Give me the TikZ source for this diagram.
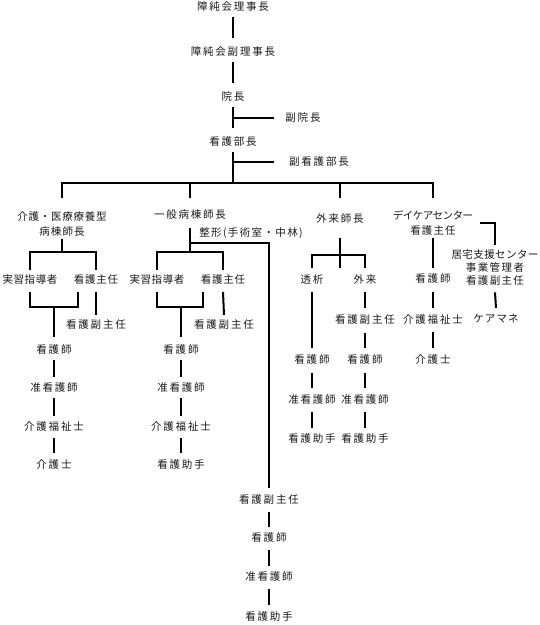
\documentclass[tikz,border=0pt]{standalone}
\usepackage{fontspec}
\newfontfamily\jp{Noto Sans CJK JP}
\begin{document}
\begin{tikzpicture}[x=1pt,y=-1pt,
  lbl/.style={font=\jp\fontsize{10.5}{13}\selectfont\addfontfeature{LetterSpace=#1}, inner sep=0pt, text=black!90, text height=8.9pt, text depth=0.95pt},
  lbl/.default=17,
  ml/.style={font=\jp\fontsize{10.5}{#1}\selectfont, inner sep=0pt, text=black!90, align=center},
  conn/.style={line width=2pt, line join=miter}]
\useasboundingbox (0,0) rectangle (540,625);

% top spine
\node[lbl] (r1) at (233,7) {障純会理事長};
\node[lbl] (r2) at (233,52) {障純会副理事長};
\node[lbl] (inc) at (233,97) {院長};
\node[lbl] (finc) at (303,118) {副院長};
\node[lbl] (kb) at (233,142) {看護部長};
\node[lbl] (fkb) at (319,162) {副看護部長};

\draw[conn] ([yshift=-10pt]r1.center) -- ([yshift=14pt]r2.center);
\draw[conn] ([yshift=-10pt]r2.center) -- ([yshift=14pt]inc.center);
\draw[conn] ([yshift=-10pt]inc.center) -- ([yshift=14pt]kb.center);
\draw[conn] (inc.center |- finc.center) -- ([xshift=-29pt]finc.center);
\coordinate (bar) at (233,183);
\coordinate (drop) at (233,198);
\draw[conn] ([yshift=-10pt]kb.center) -- (bar);
\draw[conn] (kb.center |- fkb.center) -- ([xshift=-45pt]fkb.center);

% heads
\node[ml=15] (a1) at (62,223.6) {{\addfontfeature{LetterSpace=7}介護・医療療養型}\\{\addfontfeature{LetterSpace=11}病棟師長}};
\node[lbl] (b1) at (190,215) {一般病棟師長};
\node[lbl] (c1) at (340,219) {外来師長};
\node[ml=15] (d1) at (433,222.6) {{\addfontfeature{LetterSpace=-5}デイケアセンター}\\{\addfontfeature{LetterSpace=10}看護主任}};

\draw[conn] (a1.north |- drop) -- (a1.north |- bar) -- (d1.north |- bar) -- (d1.north |- drop);
\draw[conn] (b1.north |- bar) -- (b1.north |- drop);
\draw[conn] (c1.north |- bar) -- (c1.north |- drop);

% column A
\node[lbl=5] (a2) at (30,280) {実習指導者};
\node[lbl=7] (a3) at (96,280) {看護主任};
\node[lbl] (a4) at (96,325) {看護副主任};
\node[lbl] (a5) at (54,350) {看護師};
\node[lbl] (a6) at (54,388) {准看護師};
\node[lbl] (a7) at (54,427) {介護福祉士};
\node[lbl] (a8) at (54,465) {介護士};
\coordinate (aJ) at (62,252);
\coordinate (aU) at (78,292);
\coordinate (aUb) at (54,307);
\draw[conn] ([yshift=-15pt]a1.center) -- (aJ);
\draw[conn] ([yshift=10pt]a2.center) -- (a2.center |- aJ) -- (a3.center |- aJ) -- ([yshift=10pt]a3.center);
\draw[conn] ([yshift=-12pt]a2.center) |- (aU |- aUb) -- (aU);
\draw[conn] (aUb) -- ([yshift=13pt]a5.center);
\draw[conn] ([yshift=-12pt]a3.center) -- ([yshift=10pt]a4.center);
\draw[conn] ([yshift=-10pt]a5.center) -- ([yshift=11pt]a6.center);
\draw[conn] ([yshift=-10pt]a6.center) -- ([yshift=11pt]a7.center);
\draw[conn] ([yshift=-11pt]a7.center) -- ([yshift=12pt]a8.center);

% column B
\node[lbl=13] (bs) at (251,233) {整形(手術室・中林)};
\node[lbl=5] (b2) at (157,280) {実習指導者};
\node[lbl=7] (b3) at (223,280) {看護主任};
\node[lbl] (b4) at (224,325) {看護副主任};
\node[lbl] (b5) at (181,350) {看護師};
\node[lbl] (b6) at (181,388) {准看護師};
\node[lbl] (b7) at (181,427) {介護福祉士};
\node[lbl] (b8) at (181,465) {看護助手};
\coordinate (bJ) at (190,252);
\coordinate (bS) at (190,243);
\coordinate (bU) at (203,292);
\coordinate (bUb) at (181,307);
\draw[conn] ([yshift=-13pt]b1.center) -- (bJ);
\draw[conn] ([yshift=10pt]b2.center) -- (b2.center |- bJ) -- (b3.center |- bJ) -- ([yshift=10pt]b3.center);
\draw[conn] ([yshift=-12pt]b2.center) |- (bU |- bUb) -- (bU);
\draw[conn] (bUb) -- ([yshift=13pt]b5.center);
\draw[conn] ([yshift=-12pt]b3.center) -- ([yshift=10pt]b4.center);
\draw[conn] ([yshift=-10pt]b5.center) -- ([yshift=11pt]b6.center);
\draw[conn] ([yshift=-10pt]b6.center) -- ([yshift=11pt]b7.center);
\draw[conn] ([yshift=-11pt]b7.center) -- ([yshift=12pt]b8.center);

% column E (seikei chain)
\node[lbl] (e1) at (269,500) {看護副主任};
\node[lbl] (e2) at (269,538) {看護師};
\node[lbl] (e3) at (269,577) {准看護師};
\node[lbl] (e4) at (269,617) {看護助手};
\draw[conn] (bS) -| ([yshift=12pt]e1.center);
\draw[conn] ([yshift=-12pt]e1.center) -- ([yshift=11pt]e2.center);
\draw[conn] ([yshift=-12pt]e2.center) -- ([yshift=11pt]e3.center);
\draw[conn] ([yshift=-12pt]e3.center) -- ([yshift=12pt]e4.center);

% column C
\node[lbl] (c2) at (312,280) {透析};
\node[lbl] (c3) at (365,280) {外来};
\node[lbl] (c4) at (312,360) {看護師};
\node[lbl] (c5) at (365,320) {看護副主任};
\node[lbl] (c6) at (365,360) {看護師};
\node[lbl] (c7) at (312,400) {准看護師};
\node[lbl] (c8) at (365,400) {准看護師};
\node[lbl] (c9) at (312,439) {看護助手};
\node[lbl] (c10) at (365,439) {看護助手};
\coordinate (cJ) at (340,255);
\coordinate (cE) at (340,268);
\draw[conn] ([yshift=-19pt]c1.center) -- (cE);
\draw[conn] ([yshift=12pt]c2.center) -- (c2.center |- cJ) -- (c3.center |- cJ) -- ([yshift=12pt]c3.center);
\draw[conn] ([yshift=-12pt]c2.center) -- ([yshift=12pt]c4.center);
\draw[conn] ([yshift=-12pt]c3.center) -- ([yshift=12pt]c5.center);
\draw[conn] ([yshift=-13pt]c5.center) -- ([yshift=12pt]c6.center);
\draw[conn] ([yshift=-13pt]c4.center) -- ([yshift=12pt]c7.center);
\draw[conn] ([yshift=-13pt]c6.center) -- ([yshift=12pt]c8.center);
\draw[conn] ([yshift=-12pt]c7.center) -- ([yshift=11pt]c9.center);
\draw[conn] ([yshift=-12pt]c8.center) -- ([yshift=11pt]c10.center);

% column D
\node[ml=13.3] (d2) at (495,267.4) {{\addfontfeature{LetterSpace=4}居宅支援センター}\\{\addfontfeature{LetterSpace=14}事業管理者}\\{\addfontfeature{LetterSpace=12}看護副主任}};
\node[lbl] (d4) at (433,279) {看護師};
\node[lbl] (d5) at (433,320) {介護福祉士};
\node[lbl] (d6) at (433,360) {介護士};
\node[lbl=10] (d3) at (496,319) {ケアマネ};
\coordinate (dK) at (480,223);
\draw[conn] (dK) -| ([yshift=22pt]d2.center);
\draw[conn] ([yshift=-15.5pt]d1.center) -- ([yshift=11pt]d4.center);
\draw[conn] ([yshift=-13pt]d4.center) -- ([yshift=12pt]d5.center);
\draw[conn] ([yshift=-12pt]d5.center) -- ([yshift=12pt]d6.center);
\draw[conn] ([yshift=-25pt]d2.center) -- ([yshift=11pt]d3.center);
\end{tikzpicture}
\end{document}
